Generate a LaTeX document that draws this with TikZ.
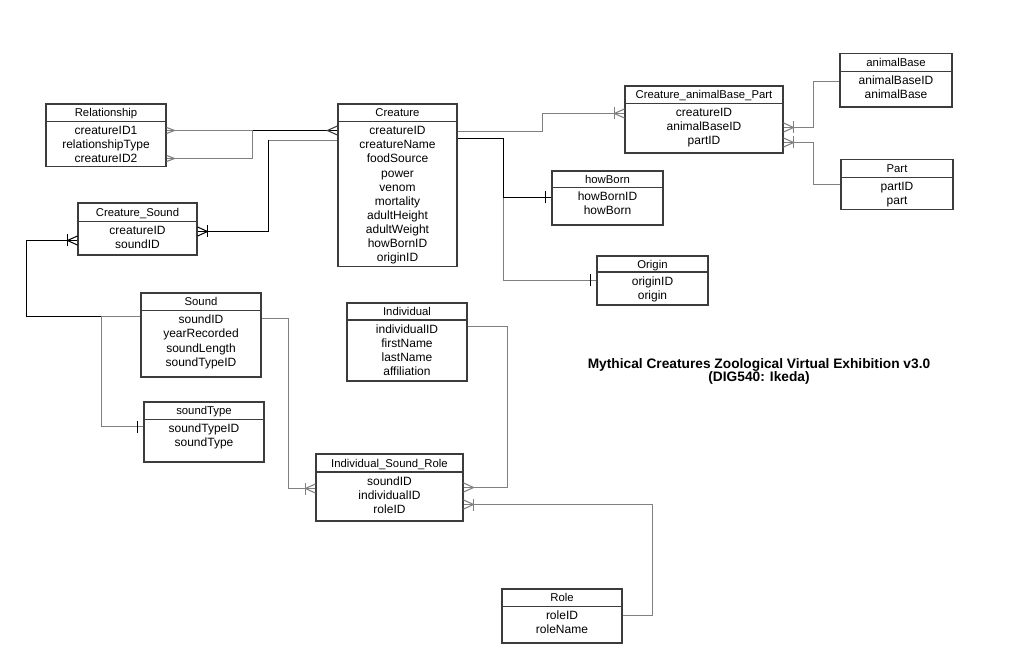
\documentclass[tikz,border=0pt]{standalone}
\usepackage{fontspec}
\setmainfont{Liberation Sans}
\usetikzlibrary{fit}
\definecolor{lgray}{RGB}{128,128,128}
\definecolor{bordc}{RGB}{60,60,60}
\tikzset{
  box/.style={draw=bordc, line width=0.9pt, inner sep=0pt, rectangle},
  boxline/.style={draw=bordc, line width=0.9pt},
  txt/.style={anchor=base, inner sep=0pt, font=\fontsize{9pt}{10.5pt}\selectfont},
  hdr/.style={anchor=base, inner sep=0pt, font=\fontsize{8.5pt}{10pt}\selectfont},
  ttl/.style={anchor=base, inner sep=0pt, font=\fontsize{10.3pt}{12pt}\selectfont\bfseries},
  gln/.style={draw=lgray, line width=0.8pt},
  bln/.style={draw=black, line width=0.75pt},
  pics/many/.style={code={\draw[pic actions] (0,-4.5) -- (10,0) -- (0,4.5);}},
  pics/manysmall/.style={code={\draw[pic actions] (0,-3) -- (8,0) -- (0,3);}},
  pics/manyone/.style={code={\draw[pic actions] (0,-4.5) -- (10,0) -- (0,4.5); \draw[pic actions] (10,-6) -- (10,6);}},
  pics/onebar/.style={code={\draw[pic actions] (6,-6) -- (6,6);}},
}
\newcommand\entity[8]{%
  \node[box, fit={(#2,#3) (#4,#6)}] (#1) {};
  \draw[boxline] (#1.west |- 0,#5) -- (#1.east |- 0,#5);
  \node[hdr] at ({(#2+#4)/2},{(#3+#5)/2+4.1}) {#7};
  \foreach \r [count=\i] in {#8} \node[txt] at ({(#2+#4)/2},{#5+13.3+(\i-1)*14.1}) {\r};
}
\begin{document}
\begin{tikzpicture}[x=0.75pt,y=-0.75pt]
\useasboundingbox (0,0) rectangle (1011,663);
\fill[white] (0,0) rectangle (1011,663);

% entities
\entity{rel}{46}{104}{166}{121.5}{166.5}{Relationship}{creatureID1,relationshipType,creatureID2}
\entity{cr}{338}{104}{457}{121.5}{266.5}{Creature}{creatureID,creatureName,foodSource,power,venom,mortality,adultHeight,adultWeight,howBornID,originID}
\entity{cs}{78}{203}{197}{221.5}{255}{Creature\_Sound}{creatureID,soundID}
\entity{snd}{141}{293}{261}{310.5}{377}{Sound}{soundID,yearRecorded,soundLength,soundTypeID}
\entity{st}{144}{402}{264}{419.5}{462}{soundType}{soundTypeID,soundType}
\entity{ind}{347}{303}{467}{320}{381}{Individual}{individualID,firstName,lastName,affiliation}
\entity{isr}{316}{454}{463}{472}{521}{Individual\_Sound\_Role}{soundID,individualID,roleID}
\entity{role}{502}{589}{622}{606.5}{643}{Role}{roleID,roleName}
\entity{cabp}{625}{86}{783}{103.5}{153}{Creature\_animalBase\_Part}{creatureID,animalBaseID,partID}
\entity{ab}{840}{53.5}{952}{71.5}{107}{animalBase}{animalBaseID,animalBase}
\entity{part}{841}{159.5}{953}{177.5}{209.5}{Part}{partID,part}
\entity{hb}{552}{171}{663}{187.5}{225}{howBorn}{howBornID,howBorn}
\entity{org}{597}{256}{708}{272}{305}{Origin}{originID,origin}

% connectors
\begin{scope}[shift={(0.5,0.5)}]
\draw[gln] (rel.east |- 0,130) -- (cr.west |- 0,130);
\draw[gln] (rel.east |- 0,158) -| (252,130) -- (cr.west |- 0,130);
\draw[bln] (252,130) -- (cr.west |- 0,130);
\pic[draw=lgray, line width=0.8pt] at (rel.east |- 0,130) {manysmall};
\pic[draw=lgray, line width=0.8pt] at (rel.east |- 0,158) {manysmall};
\pic[draw=bordc, line width=0.8pt, rotate=180] at (cr.west |- 0,130) {many};

\draw[bln] (cs.east |- 0,231) -| (268,140);
\draw[gln] (268,140) -- (cr.west |- 0,140);
\pic[draw=black, line width=0.75pt] at (cs.east |- 0,231) {manyone};

\draw[bln] (cs.west |- 0,240) -| (26,316) -- (snd.west |- 0,316);
\pic[draw=black, line width=0.75pt, rotate=180] at (cs.west |- 0,240) {manyone};

\draw[gln] (snd.west |- 0,316) -- (101,316) |- (st.west |- 0,426);
\pic[draw=black, line width=0.75pt, rotate=180] at (st.west |- 0,426) {onebar};

\draw[gln] (snd.east |- 0,318) -| (288,488) -- (isr.west |- 0,488);
\pic[draw=lgray, line width=0.8pt, rotate=180] at (isr.west |- 0,488) {manyone};

\draw[gln] (ind.east |- 0,326) -| (507,487) -- (isr.east |- 0,487);
\pic[draw=lgray, line width=0.8pt] at (isr.east |- 0,487) {many};

\draw[gln] (role.east |- 0,615) -| (652,504) -- (isr.east |- 0,504);
\pic[draw=lgray, line width=0.8pt] at (isr.east |- 0,504) {manyone};

\draw[gln] (cr.east |- 0,131) -| (542,113) -- (cabp.west |- 0,113);
\pic[draw=lgray, line width=0.8pt, rotate=180] at (cabp.west |- 0,113) {manyone};

\draw[gln] (cr.east |- 0,138) -| (503,280) -- (org.west |- 0,280);
\draw[bln] (cr.east |- 0,138) -| (503,197) -- (hb.west |- 0,197);
\pic[draw=black, line width=0.75pt, rotate=180] at (hb.west |- 0,197) {onebar};
\pic[draw=black, line width=0.75pt, rotate=180] at (org.west |- 0,280) {onebar};

\draw[gln] (ab.west |- 0,81) -| (813,127) -- (cabp.east |- 0,127);
\pic[draw=lgray, line width=0.8pt] at (cabp.east |- 0,127) {manyone};

\draw[gln] (part.west |- 0,184) -| (813,142) -- (cabp.east |- 0,142);
\pic[draw=lgray, line width=0.8pt] at (cabp.east |- 0,142) {manyone};
\end{scope}

% title
\node[ttl] (t1) at (759,368) {Mythical Creatures Zoological Virtual Exhibition v3.0};
\node[ttl] (t2) at (759,381) {(DIG540: Ikeda)};
\end{tikzpicture}
\end{document}
